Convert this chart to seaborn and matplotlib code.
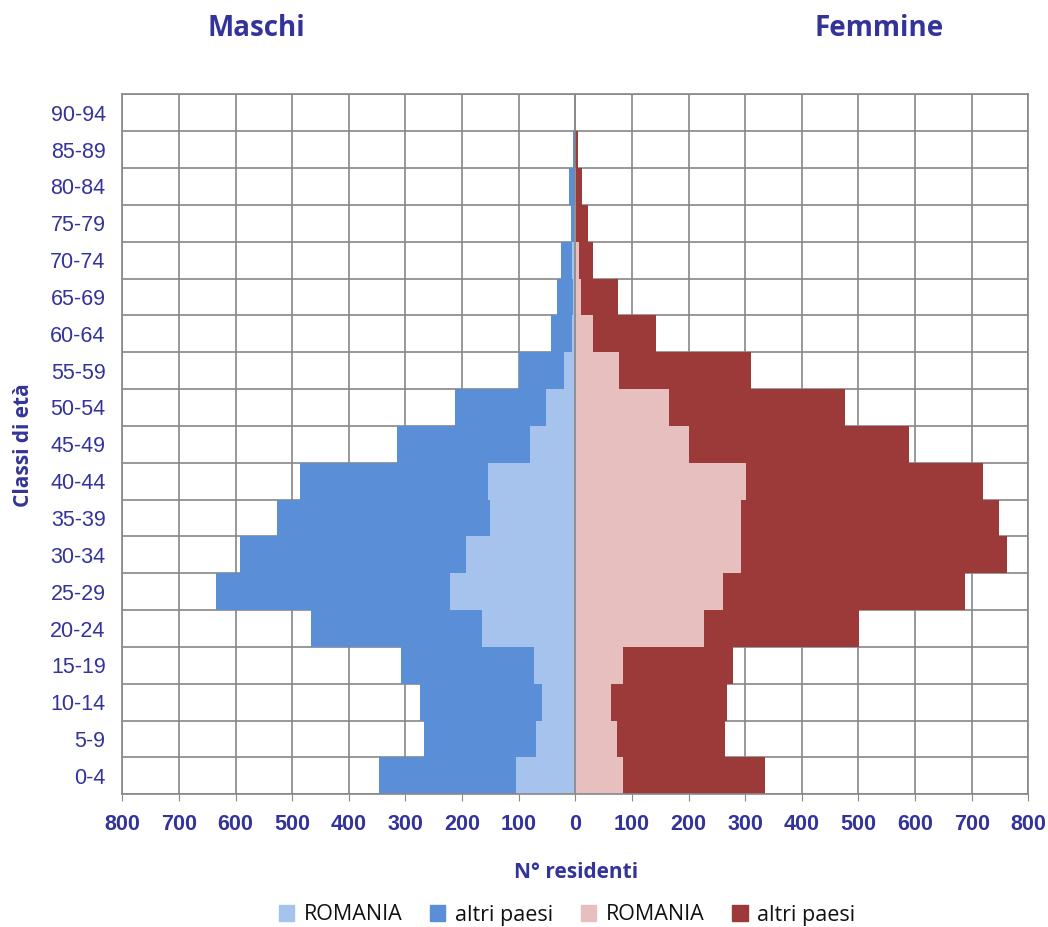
import numpy as np
import pandas as pd
from matplotlib import pyplot as plt
import seaborn as sns

# classi di eta, dal basso verso l'alto
eta = ['0-4', '5-9', '10-14', '15-19', '20-24', '25-29', '30-34', '35-39', '40-44',
       '45-49', '50-54', '55-59', '60-64', '65-69', '70-74', '75-79', '80-84', '85-89', '90-94']

maschi_romania = [104, 70, 59, 73, 165, 221, 193, 151, 154, 80, 52, 20, 6, 4, 6, 2, 0, 0, 0]
maschi_altri = [242, 198, 216, 234, 301, 414, 400, 375, 333, 234, 160, 79, 37, 28, 19, 5, 11, 4, 0]
femmine_romania = [84, 73, 63, 84, 228, 260, 292, 292, 302, 200, 165, 77, 31, 10, 6, 2, 1, 0, 0]
femmine_altri = [251, 192, 205, 195, 273, 428, 470, 456, 418, 389, 311, 234, 111, 65, 26, 20, 10, 4, 0]

x_ticks = list(range(-800, 801, 100))

blu_scuro = '#333399'
c_m_rom = '#a5c3ec'
c_m_altri = '#5a8ed6'
c_f_rom = '#e8bfbf'
c_f_altri = '#9c3a3a'
grigio = '#878787'

df = pd.DataFrame({
    'eta': eta,
    'm_rom': -np.array(maschi_romania),
    'm_tot': -(np.array(maschi_romania) + np.array(maschi_altri)),
    'f_rom': np.array(femmine_romania),
    'f_tot': np.array(femmine_romania) + np.array(femmine_altri),
})

sns.set_style('white')
plt.rcParams['font.family'] = ['Liberation Sans', 'DejaVu Sans']

fig = plt.figure(figsize=(10.48, 9.27), dpi=100)
ax = fig.add_axes([122.3 / 1048, 1 - 794.3 / 927, 906 / 1048, 700 / 927])

order = eta[::-1]
kw = dict(y='eta', order=order, width=1, saturation=1, linewidth=0, errorbar=None, ax=ax)
sns.barplot(data=df, x='m_tot', color=c_m_altri, **kw)
sns.barplot(data=df, x='m_rom', color=c_m_rom, **kw)
sns.barplot(data=df, x='f_tot', color=c_f_altri, **kw)
sns.barplot(data=df, x='f_rom', color=c_f_rom, **kw)

ax.set_xlim(-800, 800)
ax.set_ylim(len(eta) - 0.5, -0.5)
ax.set_xticks(x_ticks)
ax.set_xticklabels([str(abs(v)) for v in x_ticks])
ax.set_yticks(np.arange(-0.5, len(eta)), minor=True)

ax.set_axisbelow(True)
ax.grid(axis='x', which='major', color=grigio, lw=1.2)
ax.grid(axis='y', which='minor', color=grigio, lw=1.2)
ax.grid(axis='y', which='major', visible=False)
ax.axvline(0, color=grigio, lw=1.2, zorder=5)

for s in ax.spines.values():
    s.set_color(grigio)
    s.set_linewidth(1.2)

ax.tick_params(axis='x', which='major', length=5, color=grigio, pad=9,
               labelsize=15.5, labelcolor=blu_scuro, bottom=True)
for t in ax.get_xticklabels():
    t.set_fontweight('bold')
ax.tick_params(axis='y', which='both', length=0, pad=12, labelsize=15.5, labelcolor=blu_scuro)
ax.set_xlabel('')
ax.set_ylabel('')

titolo = dict(family=['Open Sans', 'DejaVu Sans'], fontweight='bold', color=blu_scuro)
fig.text(256 / 1048, 1 - 29 / 927, 'Maschi', ha='center', va='center', fontsize=20, **titolo)
fig.text(879 / 1048, 1 - 29 / 927, 'Femmine', ha='center', va='center', fontsize=20, **titolo)
fig.text(24 / 1048, 1 - 445 / 927, 'Classi di età', ha='center', va='center', rotation=90,
         fontsize=15, **titolo)
fig.text(576 / 1048, 1 - 872 / 927, 'N° residenti', ha='center', va='center', fontsize=15, **titolo)

handles = [plt.Rectangle((0, 0), 1, 1, color=c) for c in [c_m_rom, c_m_altri, c_f_rom, c_f_altri]]
leg = fig.legend(handles, ['ROMANIA', 'altri paesi', 'ROMANIA', 'altri paesi'], ncol=4,
                 loc='center', bbox_to_anchor=(567 / 1048, 1 - 915 / 927), frameon=False,
                 handlelength=0.7, handleheight=0.7, handletextpad=0.45, columnspacing=1.3,
                 prop={'family': ['Open Sans', 'DejaVu Sans'], 'size': 15.5})
for t in leg.get_texts():
    t.set_color('#111111')

fig.savefig('out.png', dpi=100)
